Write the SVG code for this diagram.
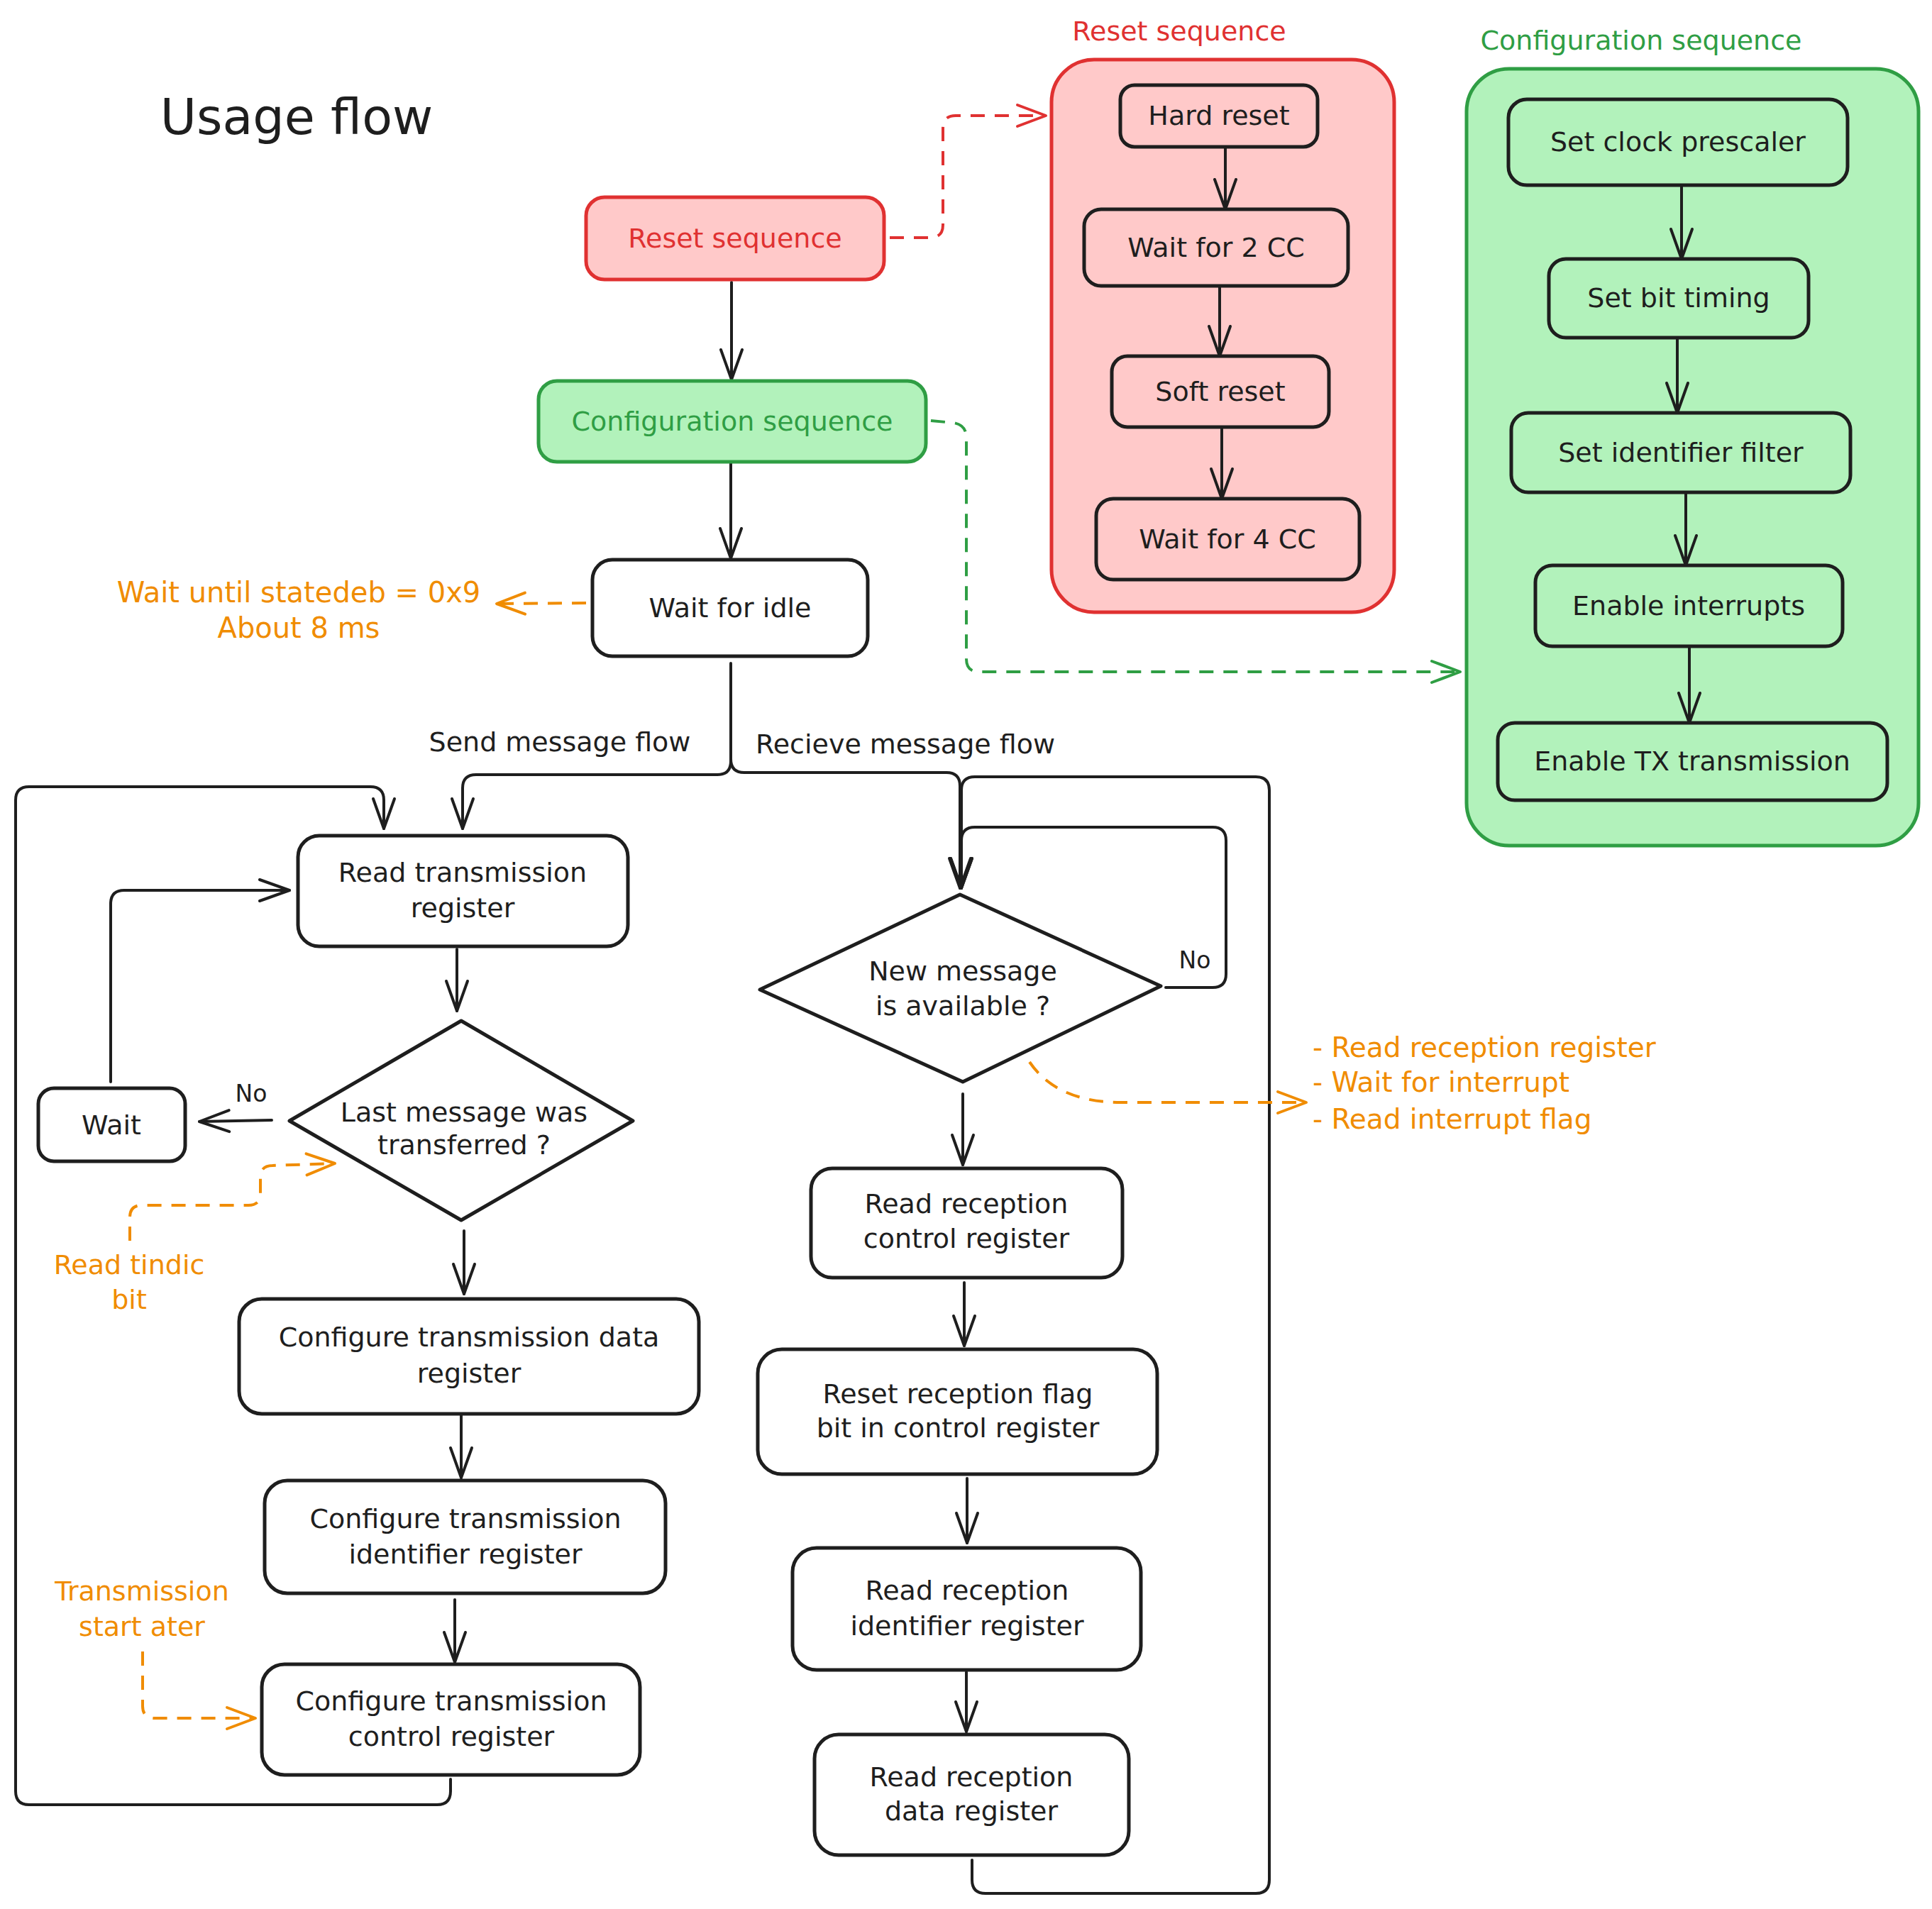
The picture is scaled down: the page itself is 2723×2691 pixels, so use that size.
<svg xmlns="http://www.w3.org/2000/svg" width="2723" height="2691" viewBox="0 0 2723 2691">
<style>
text{font-family:"DejaVu Sans","Liberation Sans",sans-serif;font-size:38px;fill:#1e1e1e;text-anchor:middle;dominant-baseline:central}
.box{fill:#ffffff;stroke:#1e1e1e;stroke-width:5}
.rbox{fill:#ffc9c9;stroke:#1e1e1e;stroke-width:5}
.gbox{fill:#b2f2bb;stroke:#1e1e1e;stroke-width:5}
.rgrp{fill:#ffc9c9;stroke:#e03131;stroke-width:5}
.ggrp{fill:#b2f2bb;stroke:#2f9e44;stroke-width:5}
.dia{fill:#ffffff;stroke:#1e1e1e;stroke-width:5;stroke-linejoin:round}
.red{fill:#e03131}.grn{fill:#2f9e44}.org{fill:#f08c00}
.c{fill:none;stroke:#1e1e1e;stroke-width:4;stroke-linecap:round;stroke-linejoin:round}
.cb{marker-end:url(#ab)}
.dr{fill:none;stroke:#e03131;stroke-width:4;stroke-dasharray:20 14;marker-end:url(#ar)}
.dg{fill:none;stroke:#2f9e44;stroke-width:4;stroke-dasharray:20 14;marker-end:url(#ag)}
.do{fill:none;stroke:#f08c00;stroke-width:4;stroke-dasharray:20 14;marker-end:url(#ao)}
</style>
<defs>
<marker id="ab" markerUnits="userSpaceOnUse" markerWidth="60" markerHeight="60" refX="0" refY="0" viewBox="-50 -30 60 60" orient="auto" overflow="visible"><path d="M-42,-15 L0,0 L-42,15" fill="none" stroke="#1e1e1e" stroke-width="4" stroke-linecap="round" stroke-linejoin="round"/></marker>
<marker id="ar" markerUnits="userSpaceOnUse" markerWidth="60" markerHeight="60" refX="0" refY="0" viewBox="-50 -30 60 60" orient="auto" overflow="visible"><path d="M-40,-15 L0,0 L-40,15" fill="none" stroke="#e03131" stroke-width="4" stroke-linecap="round" stroke-linejoin="round"/></marker>
<marker id="ag" markerUnits="userSpaceOnUse" markerWidth="60" markerHeight="60" refX="0" refY="0" viewBox="-50 -30 60 60" orient="auto" overflow="visible"><path d="M-40,-15 L0,0 L-40,15" fill="none" stroke="#2f9e44" stroke-width="4" stroke-linecap="round" stroke-linejoin="round"/></marker>
<marker id="ao" markerUnits="userSpaceOnUse" markerWidth="60" markerHeight="60" refX="0" refY="0" viewBox="-50 -30 60 60" orient="auto" overflow="visible"><path d="M-40,-15 L0,0 L-40,15" fill="none" stroke="#f08c00" stroke-width="4" stroke-linecap="round" stroke-linejoin="round"/></marker>
</defs>
<rect width="2723" height="2691" fill="#ffffff"/>

<g id="title"><text x="418" y="165" style="font-size:70px">Usage flow</text></g>

<g id="reset-group">
<rect class="rgrp" x="1482" y="84" width="483" height="779" rx="60"/>
<text class="red" x="1662" y="44">Reset sequence</text>
</g>
<g id="config-group">
<rect class="ggrp" x="2067" y="97" width="637" height="1095" rx="60"/>
<text class="grn" x="2313" y="57">Configuration sequence</text>
</g>

<g id="connectors">
<path class="c cb" d="M1031,398 L1031,535"/>
<path class="c cb" d="M1030,652 L1030,787"/>
<path class="c cb" d="M1030,935 L1030,1073 Q1030,1092 1011,1092 L671,1092 Q652,1092 652,1111 L652,1168"/>
<path class="c cb" d="M1030,1070 Q1030,1089 1049,1089 L1334,1089 Q1353,1089 1353,1108 L1353,1252"/>
<path class="c cb" d="M1370,2622 L1370,2650 Q1370,2669 1389,2669 L1770,2669 Q1789,2669 1789,2650 L1789,1114 Q1789,1095 1770,1095 L1374,1095 Q1355,1095 1355,1114 L1355,1252"/>
<path class="c cb" d="M1643,1392 L1709,1392 Q1728,1392 1728,1373 L1728,1185 Q1728,1166 1709,1166 L1374,1166 Q1355,1166 1355,1185 L1355,1252"/>
<path class="c cb" d="M1357,1542 L1357,1642"/>
<path class="c cb" d="M1359,1808 L1359,1897"/>
<path class="c cb" d="M1363,2084 L1363,2175"/>
<path class="c cb" d="M1362,2357 L1362,2441"/>
<path class="c cb" d="M635,2508 L635,2525 Q635,2544 616,2544 L41,2544 Q22,2544 22,2525 L22,1128 Q22,1109 41,1109 L522,1109 Q541,1109 541,1128 L541,1168"/>
<path class="c cb" d="M644,1338 L644,1425"/>
<path class="c cb" d="M383,1579 L281,1581"/>
<path class="c cb" d="M156,1525 L156,1274 Q156,1255 175,1255 L408,1255"/>
<path class="c cb" d="M654,1735 L654,1824"/>
<path class="c cb" d="M650,1993 L650,2083"/>
<path class="c cb" d="M641,2255 L641,2343"/>
<path class="c cb" d="M1727,207 L1727,295"/>
<path class="c cb" d="M1719,403 L1719,502"/>
<path class="c cb" d="M1722,602 L1722,703"/>
<path class="c cb" d="M2370,261 L2370,365"/>
<path class="c cb" d="M2364,476 L2364,582"/>
<path class="c cb" d="M2376,694 L2376,797"/>
<path class="c cb" d="M2381,911 L2381,1019"/>
<path class="dr" d="M1254,335 L1311,335 Q1329,335 1329,317 L1329,181 Q1329,163 1347,163 L1474,163"/>
<path class="dg" d="M1312,593 L1344,596 Q1362,599 1362,617 L1362,929 Q1362,947 1380,947 L2058,947"/>
<path class="do" d="M826,850 L700,851"/>
<path class="do" d="M183,1749 L183,1716 Q183,1699 200,1699 L350,1699 Q367,1699 367,1682 L367,1660 Q367,1643 384,1643 L472,1640"/>
<path class="do" d="M201,2328 L201,2405 Q201,2422 218,2422 L360,2422"/>
<path class="do" d="M1451,1497 Q1490,1554 1580,1554 L1841,1554"/>
</g>

<g id="n-reset"><rect class="rbox" x="826" y="278" width="420" height="116" rx="26" style="stroke:#e03131"/><text class="red" x="1036" y="336">Reset sequence</text></g>
<g id="n-config"><rect class="gbox" x="759" y="537" width="546" height="114" rx="26" style="stroke:#2f9e44"/><text class="grn" x="1032" y="594">Configuration sequence</text></g>
<g id="n-idle"><rect class="box" x="835" y="789" width="388" height="136" rx="28"/><text x="1029" y="857">Wait for idle</text></g>
<g id="t-wait-note"><text class="org" x="421" y="835" style="font-size:40px">Wait until statedeb = 0x9</text><text class="org" x="421" y="885" style="font-size:40px">About 8 ms</text></g>

<g id="n-hard"><rect class="rbox" x="1579" y="120" width="278" height="87" rx="20"/><text x="1718" y="163">Hard reset</text></g>
<g id="n-w2"><rect class="rbox" x="1528" y="295" width="372" height="108" rx="24"/><text x="1714" y="349">Wait for 2 CC</text></g>
<g id="n-soft"><rect class="rbox" x="1567" y="502" width="306" height="100" rx="22"/><text x="1720" y="552">Soft reset</text></g>
<g id="n-w4"><rect class="rbox" x="1545" y="703" width="371" height="114" rx="24"/><text x="1730" y="760">Wait for 4 CC</text></g>

<g id="n-clock"><rect class="gbox" x="2126" y="140" width="478" height="121" rx="26"/><text x="2365" y="200">Set clock prescaler</text></g>
<g id="n-bit"><rect class="gbox" x="2183" y="365" width="366" height="111" rx="24"/><text x="2366" y="420">Set bit timing</text></g>
<g id="n-filter"><rect class="gbox" x="2130" y="582" width="478" height="112" rx="24"/><text x="2369" y="638">Set identifier filter</text></g>
<g id="n-int"><rect class="gbox" x="2164" y="797" width="433" height="114" rx="24"/><text x="2380" y="854">Enable interrupts</text></g>
<g id="n-tx"><rect class="gbox" x="2111" y="1019" width="549" height="109" rx="24"/><text x="2385" y="1073">Enable TX transmission</text></g>

<g id="t-send"><text x="789" y="1046">Send message flow</text></g>
<g id="t-recv"><text x="1276" y="1049">Recieve message flow</text></g>

<g id="n-rtr"><rect class="box" x="420" y="1178" width="465" height="156" rx="30"/><text x="652" y="1230">Read transmission</text><text x="652" y="1280">register</text></g>
<g id="n-last"><path class="dia" d="M650,1439 L892,1580 L650,1720 L408,1580 Z"/><text x="654" y="1568">Last message was</text><text x="654" y="1614">transferred ?</text></g>
<g id="n-wait"><rect class="box" x="54" y="1534" width="207" height="103" rx="22"/><text x="157" y="1586">Wait</text></g>
<g id="t-no1"><text x="354" y="1541" style="font-size:33px">No</text></g>
<g id="t-tindic"><text class="org" x="182" y="1783">Read tindic</text><text class="org" x="182" y="1832">bit</text></g>
<g id="n-ctd"><rect class="box" x="337" y="1831" width="648" height="162" rx="32"/><text x="661" y="1885">Configure transmission data</text><text x="661" y="1936">register</text></g>
<g id="n-cti"><rect class="box" x="373" y="2087" width="565" height="159" rx="32"/><text x="656" y="2141">Configure transmission</text><text x="656" y="2191">identifier register</text></g>
<g id="n-ctc"><rect class="box" x="369" y="2346" width="533" height="156" rx="32"/><text x="636" y="2398">Configure transmission</text><text x="636" y="2448">control register</text></g>
<g id="t-start"><text class="org" x="200" y="2243">Transmission</text><text class="org" x="200" y="2293">start ater</text></g>

<g id="n-new"><path class="dia" d="M1353,1261 L1636,1390 L1357,1525 L1071,1395 Z"/><text x="1357" y="1369">New message</text><text x="1357" y="1418">is available ?</text></g>
<g id="t-no2"><text x="1684" y="1353" style="font-size:33px">No</text></g>
<g id="t-rx-note"><text class="org" x="1850" y="1476" style="text-anchor:start;font-size:39px">- Read reception register</text><text class="org" x="1850" y="1525" style="text-anchor:start;font-size:39px">- Wait for interrupt</text><text class="org" x="1850" y="1577" style="text-anchor:start;font-size:39px">- Read interrupt flag</text></g>
<g id="n-rrc"><rect class="box" x="1143" y="1647" width="439" height="154" rx="30"/><text x="1362" y="1697">Read reception</text><text x="1362" y="1746">control register</text></g>
<g id="n-rrf"><rect class="box" x="1068" y="1902" width="563" height="176" rx="34"/><text x="1350" y="1965">Reset reception flag</text><text x="1350" y="2013">bit in control register</text></g>
<g id="n-rri"><rect class="box" x="1117" y="2182" width="491" height="172" rx="34"/><text x="1363" y="2242">Read reception</text><text x="1363" y="2292">identifier register</text></g>
<g id="n-rrd"><rect class="box" x="1148" y="2445" width="443" height="170" rx="34"/><text x="1369" y="2505">Read reception</text><text x="1369" y="2553">data register</text></g>
</svg>
